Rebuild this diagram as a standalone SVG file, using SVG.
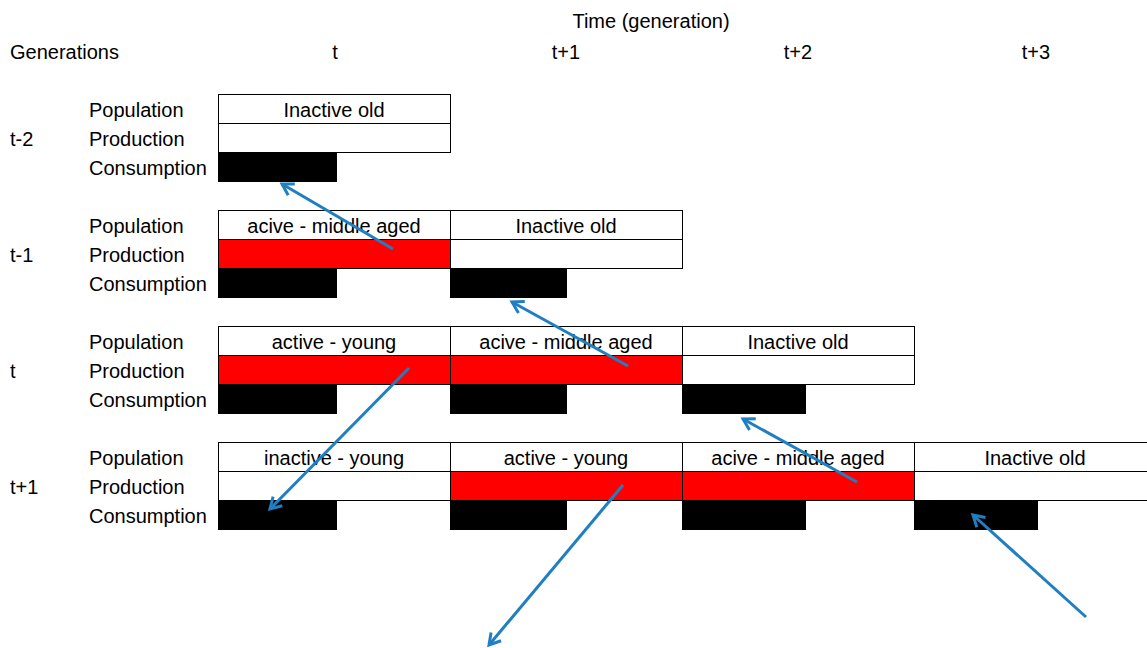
<svg xmlns="http://www.w3.org/2000/svg" width="1147" height="648" viewBox="0 0 1147 648">
<style>
text{font-family:"Liberation Sans",Arial,sans-serif;font-size:20px;fill:#000}
.c{text-anchor:middle}
.cell{fill:#fff;stroke:#000;stroke-width:1}
.red{fill:#ff0000;stroke:#000;stroke-width:1}
.blk{fill:#000}
.arr{stroke:#1f7fc1;stroke-width:3;fill:none;marker-end:url(#ah)}
</style>
<defs>
<marker id="ah" markerUnits="userSpaceOnUse" markerWidth="16" markerHeight="16" refX="13" refY="8" orient="auto">
<path d="M2,1.5 L13,8 L2,14.5" fill="none" stroke="#1f7fc1" stroke-width="3"/>
</marker>
</defs>
<rect width="1147" height="648" fill="#fff"/>
<g id="header">
<text class="c" x="651" y="28">Time (generation)</text>
<text x="10" y="59">Generations</text>
<text class="c" x="335" y="59">t</text>
<text class="c" x="566" y="59">t+1</text>
<text class="c" x="798" y="59">t+2</text>
<text class="c" x="1036" y="59">t+3</text>
</g>
<g id="gen-t-2">
<text x="10" y="146">t-2</text>
<text x="89" y="117">Population</text>
<text x="89" y="146">Production</text>
<text x="89" y="175">Consumption</text>
<rect class="cell" x="218.5" y="94.5" width="232" height="29"/>
<rect class="cell" x="218.5" y="123.5" width="232" height="29"/>
<rect class="blk" x="218" y="152" width="119" height="30"/>
<text class="c" x="334" y="117">Inactive old</text>
</g>
<g id="gen-t-1">
<text x="10" y="262">t-1</text>
<text x="89" y="233">Population</text>
<text x="89" y="262">Production</text>
<text x="89" y="291">Consumption</text>
<rect class="cell" x="218.5" y="210.5" width="232" height="29"/>
<rect class="red" x="218.5" y="239.5" width="232" height="29"/>
<rect class="cell" x="450.5" y="210.5" width="232" height="29"/>
<rect class="cell" x="450.5" y="239.5" width="232" height="29"/>
<rect class="blk" x="218" y="268" width="119" height="30"/>
<rect class="blk" x="450" y="268" width="117" height="30"/>
<text class="c" x="334" y="233">acive - middle aged</text>
<text class="c" x="566" y="233">Inactive old</text>
</g>
<g id="gen-t">
<text x="10" y="378">t</text>
<text x="89" y="349">Population</text>
<text x="89" y="378">Production</text>
<text x="89" y="407">Consumption</text>
<rect class="cell" x="218.5" y="326.5" width="232" height="29"/>
<rect class="red" x="218.5" y="355.5" width="232" height="29"/>
<rect class="cell" x="450.5" y="326.5" width="232" height="29"/>
<rect class="red" x="450.5" y="355.5" width="232" height="29"/>
<rect class="cell" x="682.5" y="326.5" width="232" height="29"/>
<rect class="cell" x="682.5" y="355.5" width="232" height="29"/>
<rect class="blk" x="218" y="384" width="119" height="30"/>
<rect class="blk" x="450" y="384" width="117" height="30"/>
<rect class="blk" x="682" y="384" width="124" height="30"/>
<text class="c" x="334" y="349">active - young</text>
<text class="c" x="566" y="349">acive - middle aged</text>
<text class="c" x="798" y="349">Inactive old</text>
</g>
<g id="gen-t+1">
<text x="10" y="494">t+1</text>
<text x="89" y="465">Population</text>
<text x="89" y="494">Production</text>
<text x="89" y="523">Consumption</text>
<rect class="cell" x="218.5" y="442.5" width="232" height="29"/>
<rect class="cell" x="218.5" y="471.5" width="232" height="29"/>
<rect class="cell" x="450.5" y="442.5" width="232" height="29"/>
<rect class="red" x="450.5" y="471.5" width="232" height="29"/>
<rect class="cell" x="682.5" y="442.5" width="232" height="29"/>
<rect class="red" x="682.5" y="471.5" width="232" height="29"/>
<rect class="cell" x="914.5" y="442.5" width="240" height="29"/>
<rect class="cell" x="914.5" y="471.5" width="240" height="29"/>
<rect class="blk" x="218" y="500" width="119" height="30"/>
<rect class="blk" x="450" y="500" width="117" height="30"/>
<rect class="blk" x="682" y="500" width="124" height="30"/>
<rect class="blk" x="914" y="500" width="124" height="30"/>
<text class="c" x="334" y="465">inactive - young</text>
<text class="c" x="566" y="465">active - young</text>
<text class="c" x="798" y="465">acive - middle aged</text>
<text class="c" x="1035" y="465">Inactive old</text>
</g>
<g id="connectors">
<line class="arr" x1="393" y1="249" x2="282" y2="184"/>
<line class="arr" x1="628" y1="366" x2="512" y2="302"/>
<line class="arr" x1="409" y1="368" x2="270" y2="509"/>
<line class="arr" x1="857" y1="482" x2="743" y2="419"/>
<line class="arr" x1="623" y1="485" x2="489" y2="645"/>
<line class="arr" x1="1086" y1="617" x2="973" y2="515"/>
</g>
</svg>
